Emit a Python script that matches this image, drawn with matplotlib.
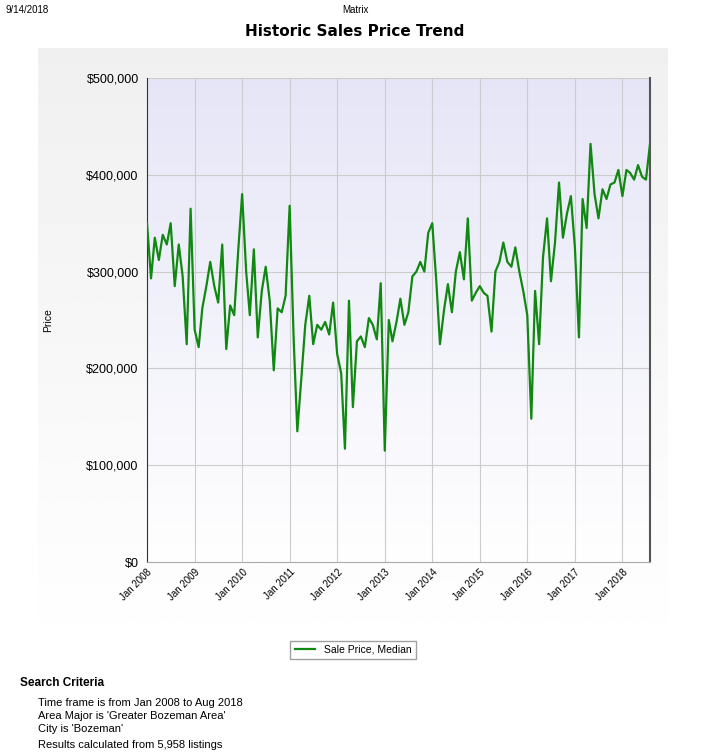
import numpy as np
import pandas as pd
import matplotlib
matplotlib.use("Agg")
import matplotlib.pyplot as plt
from matplotlib.ticker import FuncFormatter

plt.rcParams["font.family"] = "Liberation Sans"

# monthly median sale price, thousands of dollars
y2008 = [350, 293, 335, 312, 338, 328, 350, 285, 328, 295, 225, 365]
y2009 = [240, 222, 262, 285, 310, 285, 268, 328, 220, 265, 255, 320]
y2010 = [380, 300, 255, 323, 232, 280, 305, 270, 198, 262, 258, 275]
y2011 = [368, 230, 135, 190, 245, 275, 225, 245, 240, 248, 235, 268]
y2012 = [215, 195, 117, 270, 160, 228, 233, 222, 252, 245, 230, 288]
y2013 = [115, 250, 228, 248, 272, 245, 258, 295, 300, 310, 300, 340]
y2014 = [350, 290, 225, 260, 287, 258, 300, 320, 292, 355, 270, 278]
y2015 = [285, 278, 275, 238, 300, 310, 330, 310, 305, 325, 300, 280]
y2016 = [255, 148, 280, 225, 315, 355, 290, 330, 392, 335, 360, 378]
y2017 = [325, 232, 375, 345, 432, 380, 355, 385, 375, 390, 392, 405]
y2018 = [378, 405, 402, 395, 410, 398, 395, 432]

prices = np.array(y2008 + y2009 + y2010 + y2011 + y2012 + y2013 + y2014
                  + y2015 + y2016 + y2017 + y2018) * 1000
months = pd.date_range("2008-01-01", periods=len(prices), freq="MS")
tick_dates = pd.date_range("2008-01-01", "2018-01-01", freq="YS")
tick_labels = [d.strftime("Jan %Y") for d in tick_dates]

criteria = ["Time frame is from Jan 2008 to Aug 2018",
            "Area Major is 'Greater Bozeman Area'",
            "City is 'Bozeman'"]

W, H = 710, 756
fig = plt.figure(figsize=(W / 100, H / 100), dpi=100)

# header
fig.text(5 / W, 1 - 10 / H, "9/14/2018", fontsize=7, va="center")
fig.text(0.5, 1 - 10 / H, "Matrix", fontsize=7, va="center", ha="center")
fig.text(0.5, 1 - 32 / H, "Historic Sales Price Trend", fontsize=11,
         weight="bold", ha="center", va="center", family="DejaVu Sans")

# gray panel
panel = fig.add_axes([38 / W, 1 - 662 / H, 630 / W, 614 / H])
panel.imshow(np.linspace(0.94, 1.0, 256).reshape(-1, 1), cmap="gray",
             vmin=0, vmax=1, aspect="auto", extent=[0, 1, 0, 1])
panel.axis("off")

ax = fig.add_axes([147 / W, 1 - 562 / H, 503 / W, 484 / H])
grad = np.linspace(0, 1, 256).reshape(-1, 1)
top = np.array([0.90, 0.90, 0.97])
bot = np.array([1.0, 1.0, 1.0])
img = bot + (top - bot) * grad
ax.imshow(img[:, None, :].repeat(2, axis=1), aspect="auto", origin="lower",
          extent=[0, 1, 0, 1], transform=ax.transAxes, zorder=0)

ax.plot(months, prices, color="#118811", lw=1.6, zorder=3)
ax.set_xlim(months[0], months[-1])
ax.set_ylim(0, 500000)
ax.set_yticks(range(0, 500001, 100000))
ax.yaxis.set_major_formatter(FuncFormatter(lambda v, p: f"${v:,.0f}"))
ax.set_xticks(tick_dates)
ax.set_xticklabels(tick_labels, rotation=45, ha="right", rotation_mode="anchor",
                   fontsize=7)
ax.tick_params(axis="y", labelsize=9, length=0, pad=6)
ax.tick_params(axis="x", length=0)
ax.grid(color="#cccccc", lw=0.8, zorder=1)
ax.set_axisbelow(True)
ax.set_ylabel("Price", fontsize=7.5, labelpad=24)
for s in ["top", "right"]:
    ax.spines[s].set_visible(False)
ax.spines["left"].set_color("#333333")
ax.spines["bottom"].set_color("#aaaaaa")
ax.plot([1, 1], [0, 1], transform=ax.transAxes, color="#555555", lw=1.5,
        clip_on=False)

leg = fig.legend([plt.Line2D([], [], color="#118811", lw=1.6)],
                 ["Sale Price, Median"], loc="center",
                 bbox_to_anchor=(353 / W, 1 - 650 / H), fontsize=7.5,
                 frameon=True, fancybox=False, handlelength=2)
leg.get_frame().set_edgecolor("#888888")

fig.text(20 / W, 1 - 683 / H, "Search Criteria", fontsize=8.5, weight="bold",
         va="center")
for i, line in enumerate(criteria):
    fig.text(38 / W, 1 - (703 + i * 13) / H, line, fontsize=8, va="center")
fig.text(38 / W, 1 - 745 / H, "Results calculated from 5,958 listings",
         fontsize=8, va="center")

fig.savefig("out.png", dpi=100)
